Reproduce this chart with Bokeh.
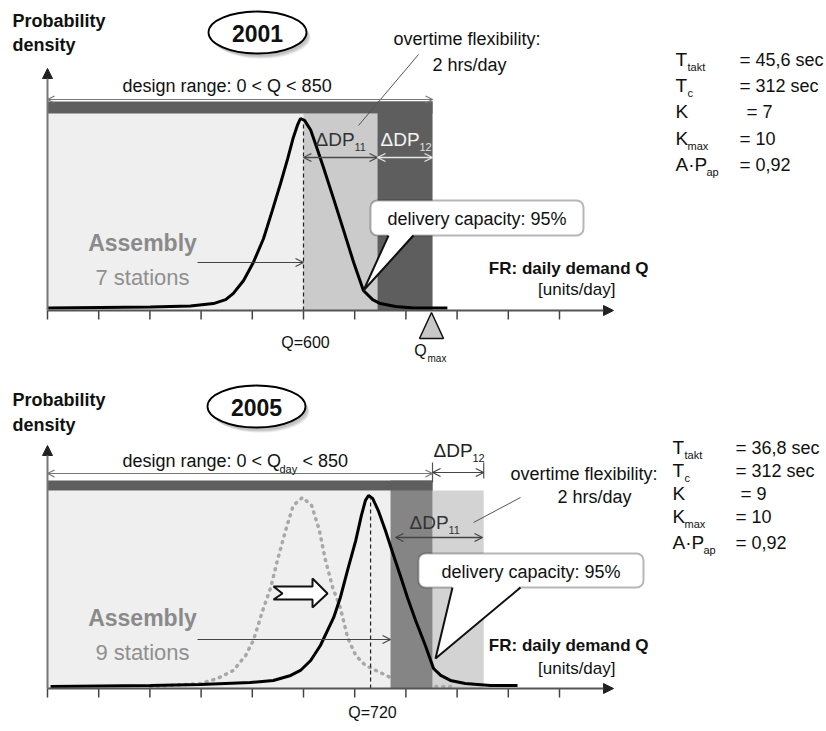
from bokeh.plotting import figure
from bokeh.layouts import column
from bokeh.models import Arrow, OpenHead, NormalHead, BoxAnnotation, Range1d
from bokeh.core.properties import value
from bokeh.embed import file_html
from bokeh.resources import INLINE

FONT = "Liberation Sans"

# ---------------- data (schematic demand axis in tick units, density with peak = 1) -------------
tick_positions = [0, 1, 2, 3, 4, 5, 6, 7, 8, 9, 10]
panel_years = ["2001", "2005"]
q_labels = ["Q=600", "Q=720"]
q_mean_u = [5.0, 6.31]          # Q=600 (2001), Q=720 (2005)
design_limit_u = 7.52            # Q = 850 (= Qmax)

curve_2001_u = [0.00, 1.04, 2.01, 2.79, 3.24, 3.48, 3.63, 3.83, 4.02, 4.22, 4.39, 4.55, 4.69,
                4.80, 4.88, 4.94, 5.02, 5.14, 5.27, 5.39, 5.59, 5.78, 5.98, 6.17, 6.35, 6.50,
                6.80, 7.15, 7.81]
curve_2001_h = [0.013, 0.016, 0.018, 0.023, 0.036, 0.057, 0.089, 0.156, 0.25, 0.375, 0.52, 0.66,
                0.79, 0.90, 0.964, 1.0, 0.99, 0.94, 0.84, 0.745, 0.58, 0.42, 0.25, 0.104, 0.057,
                0.036, 0.021, 0.013, 0.013]

curve_2005_u = [0.06, 2.01, 2.99, 3.96, 4.41, 4.75, 4.94, 5.14, 5.33, 5.59, 5.72, 5.86, 6.02,
                6.13, 6.21, 6.27, 6.35, 6.46, 6.60, 6.74, 6.89, 7.03, 7.19, 7.38, 7.54, 7.68,
                7.87, 8.16, 8.65, 9.18]
curve_2005_h = [0.010, 0.016, 0.021, 0.031, 0.042, 0.068, 0.094, 0.146, 0.224, 0.37, 0.474, 0.615,
                0.77, 0.90, 0.98, 1.005, 0.99, 0.927, 0.823, 0.708, 0.589, 0.474, 0.354, 0.224,
                0.104, 0.068, 0.042, 0.026, 0.016, 0.016]

old_curve_u = [2.01, 2.99, 3.32, 3.63, 3.87, 4.02, 4.22, 4.36, 4.49, 4.65, 4.80, 4.98, 5.16, 5.31,
               5.43, 5.57, 5.72, 5.86, 6.02, 6.21, 6.50, 6.70, 7.09, 7.58, 7.87]
old_curve_h = [0.010, 0.026, 0.052, 0.094, 0.172, 0.25, 0.42, 0.526, 0.667, 0.823, 0.953, 0.995,
               0.953, 0.823, 0.667, 0.526, 0.42, 0.266, 0.172, 0.12, 0.083, 0.057, 0.026, 0.010,
               0.010]

# zones: plot area, dDP11, dDP12, design band
zone_2001_left = [0.0, 5.0, 6.445, 0.0]
zone_2001_right = [7.52, 6.445, 7.52, 7.52]
zone_2001_bottom = [0.0, 0.0, 0.0, 1.026]
zone_2001_top = [1.026, 1.026, 1.089, 1.089]
zone_2001_color = ["#efefef", "#cbcbcb", "#5e5e5e", "#5e5e5e"]

# zones: plot area, overtime (light), dark zone, design band
zone_2005_left = [0.0, 7.52, 6.70, 0.0]
zone_2005_right = [7.52, 8.52, 7.52, 7.52]
zone_2005_bottom = [0.0, 0.0, 0.0, 1.031]
zone_2005_top = [1.031, 1.031, 1.083, 1.083]
zone_2005_color = ["#efefef", "#d3d3d3", "#858585", "#5e5e5e"]

param_symbols = ["T", "T", "K", "K", "A·P"]
param_subs = ["takt", "c", "", "max", "ap"]
param_values_2001 = ["45,6 sec", "312 sec", "7", "10", "0,92"]
param_values_2005 = ["36,8 sec", "312 sec", "9", "10", "0,92"]
stations = ["7 stations", "9 stations"]


# ---------------- layout helpers ----------------
def U(px):
    return (px - 47) / 51.2


def H1(py):
    return (310 - py) / 192


def H2(py):
    return (688 - py) / 192


PAGE_W = 824


def make_fig(H, top_py, bottom_py):
    p = figure(width=PAGE_W, height=bottom_py - top_py, x_range=Range1d(U(0), U(PAGE_W)),
               y_range=Range1d(H(bottom_py), H(top_py)), output_backend="svg",
               toolbar_location=None, x_axis_type=None, y_axis_type=None, min_border=0)
    p.grid.visible = False
    p.outline_line_color = None
    p.background_fill_color = "white"
    p.border_fill_color = "white"
    return p


def txt(p, H, px, py, s, size, color="#111111", bold=False, align="left"):
    r = p.text(x=[U(px)], y=[H(py)], text=[s], text_font=value(FONT),
               text_font_size=f"{size}px", text_color=color,
               text_font_style="bold" if bold else "normal",
               text_align=align, text_baseline="middle")
    r.level = "overlay"
    return r


def arrow(p, x0, y0, x1, y1, color, width=1.2, both=False, size=8):
    a = Arrow(x_start=x0, y_start=y0, x_end=x1, y_end=y1, line_color=color, line_width=width,
              end=OpenHead(size=size, line_color=color, line_width=width),
              start=OpenHead(size=size, line_color=color, line_width=width) if both else None)
    p.add_layout(a)


def axes(p, H, tip_py):
    p.segment(x0=tick_positions, y0=[0] * len(tick_positions), x1=tick_positions,
              y1=[-9 / 192] * len(tick_positions), line_color="#444444", line_width=1.5)
    p.add_layout(Arrow(x_start=0, y_start=0, x_end=U(613), y_end=0, line_color="#555555",
                       line_width=2, end=NormalHead(size=10, fill_color="#222222",
                                                    line_color="#222222")))
    p.add_layout(Arrow(x_start=0, y_start=0, x_end=0, y_end=H(tip_py), line_color="#777777",
                       line_width=2, end=NormalHead(size=10, fill_color="#222222",
                                                    line_color="#222222")))


def year_badge(p, H, cx, cy, label):
    for dx, dy, a in [(4, 5, 0.18), (3, 4, 0.22), (2, 3, 0.25)]:
        p.ellipse(x=[U(cx + dx)], y=[H(cy + dy)], width=98 / 51.2, height=42 / 192,
                  fill_color="#888888", fill_alpha=a, line_color=None)
    p.ellipse(x=[U(cx)], y=[H(cy)], width=98 / 51.2, height=42 / 192, fill_color="white",
              line_color="black", line_width=1.8)
    txt(p, H, cx, cy + 1, label, 23, "#111111", True, "center")


def callout(p, H, x0, x1, y0, y1, tip, b0, b1, label):
    p.add_layout(BoxAnnotation(left=U(x0), right=U(x1), top=H(y0), bottom=H(y1),
                               fill_color="white", fill_alpha=1.0, line_color="#111111",
                               line_width=2, border_radius=7))
    r = p.patch(x=[U(b0), U(tip[0]), U(b1)], y=[H(y1 - 2), H(tip[1]), H(y1 - 2)],
                fill_color="white", line_color=None)
    r.level = "overlay"
    r = p.line(x=[U(b0), U(tip[0]), U(b1)], y=[H(y1), H(tip[1]), H(y1)], line_color="#111111",
               line_width=2)
    r.level = "overlay"
    txt(p, H, (x0 + x1) / 2, (y0 + y1) / 2 + 1, label, 18, "#111111", False, "center")


def param_block(p, H, xT, xeq, rows_y, values, kshift):
    for i, (sym, sub, val) in enumerate(zip(param_symbols, param_subs, values)):
        y = rows_y[i]
        txt(p, H, xT, y, sym, 19)
        if sub:
            sx = xT + (12 if sym != "A·P" else 31)
            txt(p, H, sx, y + 7, sub, 11)
        shift = kshift if (sym == "K" and not sub) else 0
        txt(p, H, xeq + shift, y, "=", 19)
        txt(p, H, xeq + 16 + shift, y, val, 18)


# ================= 2001 panel =================
p1 = make_fig(H1, 0, 368)
H = H1
p1.quad(left=zone_2001_left, right=zone_2001_right, bottom=zone_2001_bottom, top=zone_2001_top,
        fill_color=zone_2001_color, line_color=None)
axes(p1, H, 68)
p1.line(curve_2001_u, curve_2001_h, line_color="black", line_width=3)
p1.segment(x0=[q_mean_u[0]], y0=[0], x1=[q_mean_u[0]], y1=[0.985], line_color="#222222",
           line_width=1.2, line_dash="4 3")

txt(p1, H, 12, 20, "Probability", 18, "#111111", True)
txt(p1, H, 12, 44, "density", 18, "#111111", True)
year_badge(p1, H, 257, 32, panel_years[0])

arrow(p1, 0, H(99), design_limit_u, H(99), "#777777", 1.2, True, 7)
txt(p1, H, 122, 85, "design range: 0 < Q < 850", 18)

txt(p1, H, 393, 38, "overtime flexibility:", 18, "#111111", False)
txt(p1, H, 432, 64, "2 hrs/day", 18, "#111111", False)
p1.segment(x0=[U(418)], y0=[H(54)], x1=[U(358)], y1=[H(125)], line_color="#555555",
           line_width=1)

arrow(p1, q_mean_u[0], H(157), zone_2001_right[1], H(157), "#4a4a4a", 1.3, True, 8)
arrow(p1, zone_2001_left[2], H(157), design_limit_u, H(157), "#e8e8e8", 1.3, True, 8)
txt(p1, H, 315, 139, "ΔDP", 19, "#333333")
txt(p1, H, 354, 146, "11", 11, "#333333")
txt(p1, H, 380, 139, "ΔDP", 19, "#f4f4f4")
txt(p1, H, 419, 146, "12", 11, "#e0e0e0")

txt(p1, H, 142, 242, "Assembly", 23, "#8a8a8a", True, "center")
txt(p1, H, 142, 277, stations[0], 22, "#8f8f8f", False, "center")
arrow(p1, U(197), H(262), q_mean_u[0], H(262), "#444444", 1.1, False, 8)

callout(p1, H, 370, 583, 200, 235, (363, 290), 388, 413, "delivery capacity: 95%")

txt(p1, H, 648, 268, "FR: daily demand Q", 17, "#111111", True, "right")
txt(p1, H, 615, 289, "[units/day]", 17, "#111111", False, "right")

txt(p1, H, 305, 342, q_labels[0], 16, "#111111", False, "center")
p1.patch(x=[design_limit_u - 0.02, U(419), U(443)], y=[H(312), H(338), H(338)],
         fill_color="#c8c8c8", line_color="#111111", line_width=1.5)
txt(p1, H, 420, 350, "Q", 16, "#111111", False, "center")
txt(p1, H, 427, 358, "max", 10, "#111111", False)

param_block(p1, H, 675, 739, [59, 85, 111, 138, 164], param_values_2001, 7)

# ================= 2005 panel =================
p2 = make_fig(H2, 368, 728)
H = H2
p2.quad(left=zone_2005_left[:2], right=zone_2005_right[:2], bottom=zone_2005_bottom[:2],
        top=zone_2005_top[:2], fill_color=zone_2005_color[:2], line_color=None)
p2.line(old_curve_u, old_curve_h, line_color="#a8a8a8", line_width=3.5, line_dash="1 6",
        line_cap="round")
p2.quad(left=zone_2005_left[2:], right=zone_2005_right[2:], bottom=zone_2005_bottom[2:],
        top=zone_2005_top[2:], fill_color=zone_2005_color[2:], line_color=None)
axes(p2, H, 445)
p2.line(curve_2005_u, curve_2005_h, line_color="black", line_width=3)
p2.segment(x0=[q_mean_u[1]], y0=[0], x1=[q_mean_u[1]], y1=[0.99], line_color="#222222",
           line_width=1.2, line_dash="4 3")

txt(p2, H, 12, 399, "Probability", 18, "#111111", True)
txt(p2, H, 12, 424, "density", 18, "#111111", True)
year_badge(p2, H, 256, 406, panel_years[1])

arrow(p2, 0, H(473), design_limit_u, H(473), "#777777", 1.2, True, 7)
txt(p2, H, 122, 460, "design range: 0 < Q", 18)
txt(p2, H, 279, 468, "day", 11)
txt(p2, H, 302, 460, "< 850", 18)

p2.segment(x0=[design_limit_u, zone_2005_right[1]], y0=[H(462), H(462)],
           x1=[design_limit_u, zone_2005_right[1]], y1=[H(482), H(478)],
           line_color="#555555", line_width=1.2)
arrow(p2, design_limit_u, H(472), zone_2005_right[1], H(472), "#444444", 1.2, True, 8)
txt(p2, H, 433, 450, "ΔDP", 19, "#222222")
txt(p2, H, 472, 457, "12", 11, "#222222")

arrow(p2, U(395), H(537), U(482), H(537), "#444444", 1.3, True, 8)
txt(p2, H, 409, 522, "ΔDP", 19, "#333333")
txt(p2, H, 448, 529, "11", 11, "#333333")

txt(p2, H, 510, 473, "overtime flexibility:", 18)
txt(p2, H, 557, 496, "2 hrs/day", 18)
p2.segment(x0=[U(520)], y0=[H(497)], x1=[U(473)], y1=[H(522)], line_color="#555555",
           line_width=1)

txt(p2, H, 142, 617, "Assembly", 23, "#8a8a8a", True, "center")
txt(p2, H, 142, 652, stations[1], 22, "#8f8f8f", False, "center")
arrow(p2, U(197), H(639), zone_2005_left[2], H(639), "#444444", 1.1, False, 8)

bx = [273, 312, 312, 327, 312, 312, 273, 282]
by = [586, 586, 578, 593, 607, 599, 599, 593]
p2.patch(x=[U(v) for v in bx], y=[H(v) for v in by], fill_color="white", line_color="#111111",
         line_width=2)

callout(p2, H, 418, 643, 553, 587, (435, 658), 452, 520, "delivery capacity: 95%")

txt(p2, H, 648, 645, "FR: daily demand Q", 17, "#111111", True, "right")
txt(p2, H, 615, 668, "[units/day]", 17, "#111111", False, "right")
txt(p2, H, 372, 712, q_labels[1], 16, "#111111", False, "center")

param_block(p2, H, 672, 735, [447, 470, 493, 516, 542], param_values_2005, 5)

layout = column(p1, p2, spacing=0)
open("out.html", "w").write(file_html(layout, INLINE))
